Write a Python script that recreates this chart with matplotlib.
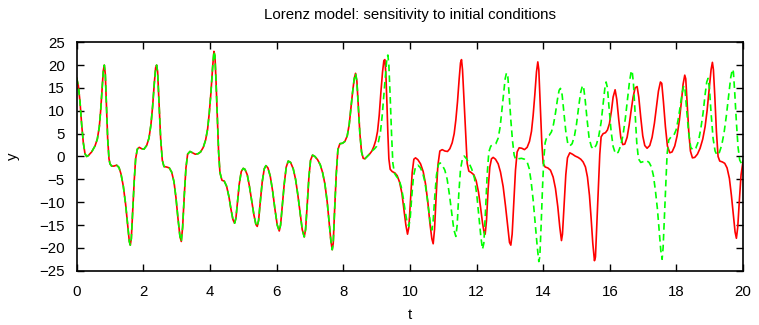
import matplotlib
matplotlib.use('Agg')
import matplotlib.pyplot as plt
import numpy as np

plt.rcParams['font.family'] = ['Liberation Sans', 'DejaVu Sans']

# part where both runs still coincide (t, y)
common = [
    (0.0, 17.2), (0.05, 15.5), (0.1, 12), (0.15, 7), (0.2, 3), (0.25, 0.6), (0.3, 0),
    (0.35, 0.2), (0.45, 1.0), (0.55, 2.3), (0.62, 3.8), (0.68, 6.5), (0.72, 10),
    (0.76, 14.5), (0.8, 18.8), (0.83, 20), (0.86, 18), (0.89, 12), (0.93, 4),
    (0.97, -0.5), (1.0, -1.6), (1.05, -2.1), (1.12, -2.1), (1.2, -1.9), (1.27, -2.4),
    (1.33, -3.8), (1.4, -6.5), (1.47, -10.5), (1.53, -15), (1.58, -18.6), (1.61, -19.4),
    (1.64, -18), (1.68, -12), (1.73, -5), (1.77, -0.5), (1.82, 1.6), (1.88, 2.0),
    (1.95, 1.7), (2.02, 1.6), (2.1, 2.4), (2.17, 4), (2.23, 7), (2.28, 11), (2.33, 16),
    (2.37, 19.4), (2.4, 20), (2.43, 18.5), (2.47, 12), (2.52, 4), (2.57, -0.8),
    (2.62, -2.2), (2.7, -2.3), (2.78, -2.5), (2.85, -3.4), (2.92, -5.5), (2.98, -9),
    (3.04, -13.5), (3.1, -17.5), (3.14, -18.6), (3.18, -15.5), (3.23, -8.5),
    (3.28, -2.5), (3.33, 0.5), (3.4, 1.1), (3.48, 0.8), (3.56, 0.5), (3.64, 0.6),
    (3.72, 1.0), (3.8, 2.0), (3.87, 3.6), (3.93, 6), (3.98, 9.5), (4.03, 14),
    (4.08, 19.5), (4.12, 23), (4.15, 22), (4.18, 17), (4.22, 9), (4.26, 1),
    (4.3, -3.5), (4.36, -5.2), (4.43, -5.4), (4.5, -6.5), (4.57, -8.8), (4.63, -11.5),
    (4.69, -13.8), (4.74, -14.6), (4.78, -13.5), (4.83, -9.8), (4.88, -6), (4.94, -3.3),
    (5.0, -2.6), (5.05, -2.8), (5.12, -4), (5.18, -6.3), (5.25, -9.5), (5.32, -12.8),
    (5.38, -14.9), (5.42, -15.3), (5.46, -14), (5.51, -10), (5.57, -5.5), (5.63, -2.7),
    (5.68, -2.0), (5.74, -2.5), (5.81, -4.3), (5.88, -7.5), (5.95, -11.5), (6.02, -15),
    (6.08, -16.3), (6.12, -15), (6.17, -11), (6.23, -6), (6.29, -2.3), (6.35, -1.0),
    (6.42, -1.3), (6.5, -2.7), (6.57, -5.0), (6.64, -8.5), (6.71, -12.5), (6.77, -16),
    (6.83, -17.6), (6.87, -16), (6.92, -10.5), (6.97, -4.5), (7.02, -0.8), (7.08, 0.3),
    (7.15, 0), (7.23, -0.7), (7.31, -1.8), (7.38, -3.5), (7.45, -6), (7.52, -10),
    (7.58, -14.5), (7.63, -18.5), (7.67, -20.4), (7.7, -19), (7.74, -12), (7.79, -4),
    (7.84, 1.5), (7.9, 2.8), (7.98, 2.9), (8.05, 3.3), (8.12, 4.5), (8.18, 7),
    (8.23, 10.5), (8.28, 14), (8.33, 17), (8.37, 18.2), (8.41, 16.5), (8.45, 11.5),
    (8.5, 5), (8.55, 1), (8.6, -0.4), (8.65, -0.5), (8.72, 0), (8.8, 0.6), (8.86, 1.2),
]

red_tail = [
    (8.92, 2.2), (8.98, 3.6), (9.03, 5.5), (9.08, 9), (9.13, 14), (9.18, 18.5),
    (9.22, 21), (9.25, 21.2), (9.28, 18), (9.31, 12), (9.34, 5), (9.37, -0.5),
    (9.41, -2.8), (9.47, -3.3), (9.55, -3.6), (9.62, -4.2), (9.69, -5.6), (9.76, -8),
    (9.82, -11.5), (9.88, -15), (9.93, -17), (9.97, -15.5), (10.02, -9.5), (10.07, -3.5),
    (10.12, -0.6), (10.17, -0.3), (10.24, -0.7), (10.32, -1.6), (10.4, -3.3), (10.47, -6),
    (10.54, -10), (10.6, -14.5), (10.66, -18), (10.7, -19.1), (10.74, -16), (10.79, -8.5),
    (10.84, -2), (10.9, 1.2), (10.97, 1.5), (11.05, 1.2), (11.13, 1.1), (11.2, 1.7),
    (11.27, 3), (11.33, 5), (11.38, 8), (11.43, 12), (11.48, 17), (11.52, 20.5),
    (11.55, 21.2), (11.58, 19), (11.62, 13), (11.67, 5), (11.72, -1.5), (11.77, -3.2),
    (11.84, -3.5), (11.92, -4), (11.99, -5.3), (12.06, -7.8), (12.12, -11), (12.18, -14.5),
    (12.23, -16.7), (12.26, -17), (12.3, -14), (12.35, -7), (12.4, -2.3), (12.45, -0.5),
    (12.5, -0.2), (12.57, -0.6), (12.65, -1.6), (12.72, -3.4), (12.8, -6.6), (12.87, -10.8),
    (12.94, -15.5), (12.99, -18.8), (13.03, -19.4), (13.07, -17), (13.12, -10), (13.17, -3),
    (13.22, 1.0), (13.28, 1.9), (13.36, 1.8), (13.44, 1.5), (13.52, 2.0), (13.59, 3.3),
    (13.65, 5.5), (13.7, 9), (13.75, 13.5), (13.8, 18.5), (13.84, 20.7), (13.87, 19),
    (13.91, 12), (13.96, 3), (14.0, -1.5), (14.06, -2.3), (14.14, -2.5), (14.22, -3),
    (14.3, -4.5), (14.37, -7), (14.44, -11), (14.5, -15.5), (14.55, -18.4), (14.58, -17),
    (14.63, -10.5), (14.68, -4), (14.73, -0.3), (14.8, 0.8), (14.88, 0.5), (14.96, 0.1),
    (15.05, -0.2), (15.13, -0.6), (15.2, -1.2), (15.27, -2.3), (15.33, -4.5), (15.39, -8.5),
    (15.44, -13.5), (15.49, -19), (15.54, -22.8), (15.57, -22), (15.61, -15), (15.66, -6),
    (15.7, 0.5), (15.74, 4.3), (15.8, 5), (15.87, 5.2), (15.93, 5.8), (15.99, 7.2),
    (16.05, 10), (16.1, 13), (16.16, 14.6), (16.21, 12.5), (16.27, 8), (16.33, 4.2),
    (16.39, 2.6), (16.45, 2.7), (16.52, 4.2), (16.58, 6.8), (16.64, 10), (16.7, 13),
    (16.76, 15), (16.82, 15.3), (16.87, 13), (16.93, 8.5), (16.99, 4.5), (17.05, 2.4),
    (17.12, 1.8), (17.2, 2.4), (17.27, 4.2), (17.34, 7.3), (17.4, 10.8), (17.46, 14.3),
    (17.52, 16.3), (17.56, 16), (17.61, 12), (17.67, 6.5), (17.73, 2.3), (17.8, 0.8),
    (17.87, 1.0), (17.95, 2.3), (18.02, 4.5), (18.09, 8), (18.15, 12), (18.2, 15.8),
    (18.25, 17.8), (18.28, 17), (18.32, 12), (18.37, 5.5), (18.42, 1.2), (18.48, -0.3),
    (18.55, -0.2), (18.63, 0.5), (18.71, 1.8), (18.79, 3.8), (18.86, 6.5), (18.92, 10),
    (18.98, 14.5), (19.04, 19), (19.08, 20.6), (19.11, 19), (19.15, 13.5), (19.2, 5.5),
    (19.25, 0), (19.3, -1), (19.38, -1.2), (19.45, -1.5), (19.52, -2.5), (19.59, -4.8),
    (19.65, -8.5), (19.71, -13), (19.76, -16.5), (19.8, -17.9), (19.84, -15.5),
    (19.89, -9.5), (19.94, -4), (20.0, -1.0),
]

green_tail = [
    (8.93, 1.6), (9.0, 2.2), (9.06, 3.3), (9.12, 5.5), (9.17, 9), (9.22, 13.5), (9.27, 18),
    (9.31, 21.5), (9.34, 22.2), (9.37, 20), (9.41, 13), (9.45, 5), (9.49, -1.5),
    (9.54, -3.7), (9.6, -4.4), (9.67, -5), (9.74, -6.6), (9.8, -9), (9.86, -12),
    (9.92, -14.5), (9.97, -15.3), (10.01, -13.5), (10.06, -8.5), (10.11, -4.3),
    (10.17, -2.3), (10.24, -1.9), (10.31, -2.4), (10.38, -3.5), (10.45, -5.5), (10.51, -8.5),
    (10.57, -12), (10.62, -15), (10.66, -16.1), (10.7, -14), (10.75, -8.5), (10.8, -4),
    (10.86, -1.7), (10.91, -1.4), (10.98, -2), (11.05, -3.0), (11.12, -5), (11.19, -8.5),
    (11.26, -12.5), (11.32, -16), (11.38, -17.5), (11.42, -15), (11.47, -8), (11.52, -2.8),
    (11.58, -0.4), (11.63, 0.1), (11.7, -0.5), (11.78, -1.5), (11.86, -2.8), (11.94, -4.8),
    (12.01, -8.5), (12.07, -13), (12.13, -17.5), (12.18, -20.3), (12.22, -19), (12.27, -12),
    (12.32, -4), (12.37, 1), (12.43, 2.3), (12.5, 2.5), (12.58, 2.8), (12.65, 4),
    (12.71, 6.5), (12.76, 10), (12.81, 13.5), (12.86, 17), (12.9, 18.3), (12.94, 17.5),
    (12.98, 13.5), (13.03, 8), (13.08, 3.5), (13.13, 0.3), (13.18, -0.7), (13.26, -0.5),
    (13.35, -0.4), (13.44, -0.6), (13.52, -1.2), (13.58, -2.6), (13.64, -5.5), (13.7, -9.5),
    (13.76, -14.5), (13.82, -19.5), (13.87, -23), (13.9, -22), (13.94, -15), (13.98, -7),
    (14.02, -0.5), (14.06, 3), (14.11, 4.3), (14.18, 4.6), (14.25, 5.4), (14.31, 7),
    (14.37, 9.5), (14.43, 12.5), (14.48, 14.5), (14.52, 14.9), (14.57, 13.5), (14.62, 9.8),
    (14.68, 5.5), (14.74, 2.8), (14.8, 2.3), (14.87, 2.8), (14.94, 4.5), (15.0, 7),
    (15.06, 10.5), (15.12, 13.8), (15.18, 15.5), (15.21, 15.4), (15.26, 12.5), (15.32, 8),
    (15.38, 4), (15.45, 2.1), (15.52, 1.6), (15.6, 2.6), (15.67, 4.5), (15.74, 7.5),
    (15.8, 11.5), (15.85, 14.8), (15.89, 16.3), (15.93, 15), (15.98, 10.5), (16.04, 5.5),
    (16.1, 2.2), (16.17, 0.6), (16.25, 0.9), (16.33, 2.4), (16.4, 4.8), (16.47, 8.5),
    (16.53, 12.5), (16.59, 16.3), (16.64, 18.5), (16.67, 18.8), (16.71, 16), (16.76, 9.5),
    (16.81, 3), (16.86, -0.5), (16.93, -1.3), (17.02, -1.1), (17.1, -0.9), (17.18, -1.3),
    (17.25, -2.3), (17.31, -4.2), (17.37, -7.5), (17.43, -11.5), (17.48, -16),
    (17.53, -20.5), (17.57, -22.5), (17.6, -20), (17.64, -13), (17.68, -5.5), (17.72, 0.5),
    (17.77, 3.6), (17.84, 4.3), (17.92, 4.6), (17.99, 5.8), (18.05, 8), (18.11, 10.8),
    (18.17, 13.8), (18.22, 15.5), (18.26, 14.5), (18.31, 10), (18.37, 5), (18.43, 2),
    (18.5, 1.4), (18.58, 1.8), (18.66, 3.3), (18.73, 6), (18.8, 9.5), (18.86, 13.5),
    (18.91, 16.3), (18.95, 17.1), (18.99, 15), (19.04, 9.5), (19.1, 4), (19.16, 1.2),
    (19.22, 0.3), (19.29, 0.9), (19.36, 2.5), (19.43, 5.2), (19.5, 9), (19.57, 13.5),
    (19.63, 17.3), (19.68, 19.1), (19.71, 18.5), (19.75, 14), (19.8, 7.5), (19.85, 2),
    (19.9, -0.8), (19.95, -1.5), (20.0, -1.3),
]

t1, y1 = zip(*(common + red_tail))
t2, y2 = zip(*(common + green_tail))

fig = plt.figure(figsize=(7.59, 3.25), dpi=100)
ax = fig.add_axes([0.101, 0.167, 0.878, 0.703])
ax.plot(t1, y1, color='#ff0000', lw=1.2)
ax.plot(t2, y2, color='#00ff00', lw=1.2, linestyle=(0, (4, 2.5)))

ax.set_xlim(0, 20)
ax.set_ylim(-25, 25)
ax.set_xticks(np.arange(0, 21, 2))
ax.set_yticks(np.arange(-25, 26, 5))
ax.tick_params(direction='in', top=True, right=True, length=5, width=1,
               labelsize=10.8)
ax.tick_params(axis='x', pad=10)
ax.tick_params(axis='y', pad=8.5)
for s in ax.spines.values():
    s.set_linewidth(1.2)
ax.set_xlabel('t', fontsize=10.8, labelpad=7)
ax.set_ylabel('y', fontsize=10.8, labelpad=14)
ax.set_title('Lorenz model: sensitivity to initial conditions', fontsize=10.8, pad=17)

fig.savefig('out.png', dpi=100)
